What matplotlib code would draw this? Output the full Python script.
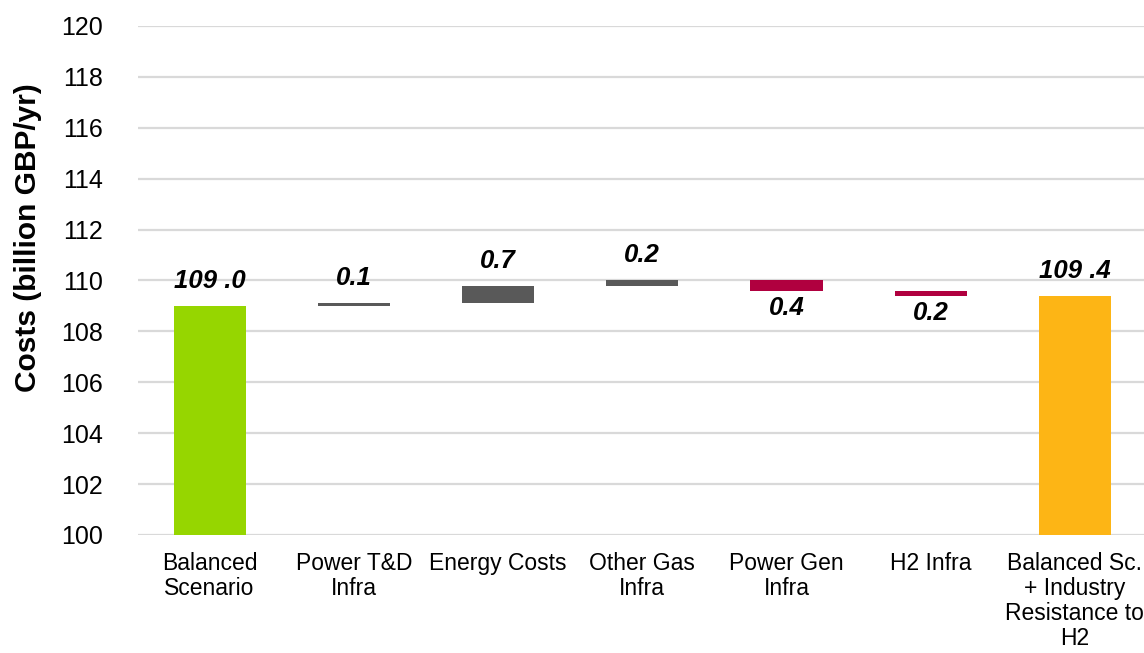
import matplotlib
matplotlib.use("Agg")
import matplotlib.pyplot as plt
import numpy as np

plt.rcParams['font.family'] = ['Liberation Sans', 'DejaVu Sans']

categories = ["Balanced\nScenario", "Power T&D\nInfra", "Energy Costs", "Other Gas\nInfra",
              "Power Gen\nInfra", "H2 Infra", "Balanced Sc.\n+ Industry\nResistance to\nH2"]
start_total = 109.0
deltas = [0.1, 0.7, 0.2, -0.4, -0.2]
end_total = 109.4
value_labels = ["109 .0", "0.1", "0.7", "0.2", "0.4", "0.2", "109 .4"]
y_ticks = [100, 102, 104, 106, 108, 110, 112, 114, 116, 118, 120]

c_start = '#96D600'
c_up = '#595959'
c_down = '#B0003F'
c_end = '#FDB515'

fig = plt.figure(figsize=(11.44, 6.53), dpi=100)
ax = fig.add_axes([137.5/1144, 1-535/653, (1147-137.5)/1144, (535-26)/653])

x = np.arange(len(categories))
w = 0.5

# totals
ax.bar(x[0], start_total - 100, bottom=100, width=w, color=c_start, zorder=3)
ax.bar(x[-1], end_total - 100, bottom=100, width=w, color=c_end, zorder=3)

level = start_total
tops = [start_total]
bottoms = [start_total]
for i, d in enumerate(deltas):
    b = level if d >= 0 else level + d
    ax.bar(x[i+1], abs(d), bottom=b, width=w, color=c_up if d >= 0 else c_down, zorder=3)
    tops.append(b + abs(d))
    bottoms.append(b)
    level += d
tops.append(end_total)
bottoms.append(100)

signs = [1] + [1 if d >= 0 else -1 for d in deltas] + [1]
for i, lab in enumerate(value_labels):
    if signs[i] > 0:
        ax.annotate(lab, (x[i], tops[i]), xytext=(0, 13), textcoords='offset points',
                    ha='center', va='baseline', fontsize=18.5, fontweight='bold',
                    fontstyle='italic', zorder=4)
    else:
        ax.annotate(lab, (x[i], bottoms[i]), xytext=(0, -4), textcoords='offset points',
                    ha='center', va='top', fontsize=18.5, fontweight='bold',
                    fontstyle='italic', zorder=4)

ax.set_xlim(-0.5, 6.5)
ax.set_ylim(100, 120)
ax.set_yticks(y_ticks)
ax.set_xticks(x)
ax.set_xticklabels(categories, fontsize=16.5, linespacing=1.12)
ax.tick_params(axis='y', length=0, pad=25, labelsize=18)
ax.tick_params(axis='x', length=0, pad=12)
ax.yaxis.grid(True, color='#D9D9D9', linewidth=1.6, zorder=0)
ax.set_axisbelow(True)
for s in ax.spines.values():
    s.set_visible(False)

fig.text(28/1144, 1-238/653, "Costs (billion GBP/yr)", rotation=90, ha='center', va='center',
         fontsize=21.5, fontweight='bold')

fig.savefig("out.png", dpi=100)
